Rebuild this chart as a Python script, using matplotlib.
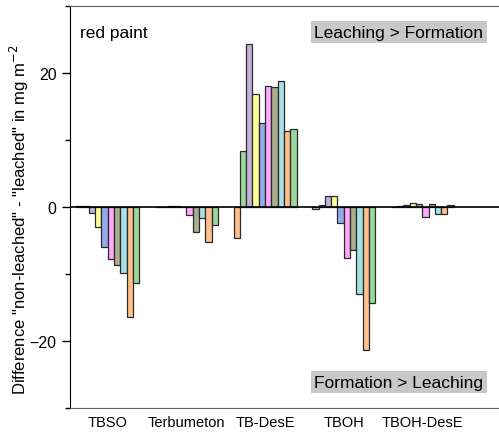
import numpy as np
import matplotlib.pyplot as plt
from matplotlib.ticker import MultipleLocator

plt.rcParams['font.family'] = ['Liberation Sans', 'DejaVu Sans']

# compounds on the x axis
compounds = ['TBSO', 'Terbumeton', 'TB-DesE', 'TBOH', 'TBOH-DesE']

# ten series per compound, in drawing order (left to right inside a group)
s_orange1 = [0.1, 0.0, -4.6, -0.3, 0.0]
s_green1 = [0.1, 0.0, 8.4, 0.3, 0.1]
s_purple = [-0.9, 0.2, 24.4, 1.6, 0.35]
s_yellow = [-3.0, 0.1, 16.9, 1.6, 0.55]
s_blue = [-5.9, 0.0, 12.5, -2.4, 0.5]
s_pink = [-7.7, -1.25, 18.0, -7.6, -1.5]
s_olive = [-8.6, -3.8, 17.9, -6.4, 0.4]
s_cyan = [-9.8, -1.6, 18.8, -13.0, -1.05]
s_orange2 = [-16.4, -5.2, 11.4, -21.3, -1.05]
s_green2 = [-11.3, -2.7, 11.7, -14.4, 0.3]

series = [s_orange1, s_green1, s_purple, s_yellow, s_blue,
          s_pink, s_olive, s_cyan, s_orange2, s_green2]
colors = ['#FFC08C', '#9DD69A', '#C2B3DB', '#FFFF99', '#94AAEE',
          '#FFA8FF', '#AAAE8C', '#A8E2E8', '#FFC08C', '#9DD69A']

fig = plt.figure(figsize=(4.99, 4.35), dpi=100)
ax = fig.add_axes([0.140, 0.0598, 0.860, 0.924])

x = np.arange(len(compounds))
w = 0.08
n = len(series)
for j, (vals, c) in enumerate(zip(series, colors)):
    ax.bar(x + (j - (n - 1) / 2) * w, vals, width=w, color=c,
           edgecolor='#2a2a2a', linewidth=0.9, zorder=2)

ax.axhline(0, color='black', linewidth=1.2, zorder=3)

ax.set_xlim(-0.482, 4.975)
ax.set_ylim(-30, 30)
ax.set_xticks(x)
ax.set_xticklabels(compounds, fontsize=10.5)
ax.tick_params(axis='x', length=0, pad=5)
ax.yaxis.set_major_locator(MultipleLocator(20))
ax.yaxis.set_minor_locator(MultipleLocator(10))
ax.tick_params(axis='y', which='major', length=6, width=1, labelsize=11.5, direction='out')
ax.tick_params(axis='y', which='minor', length=3.5, width=1, direction='out')

ax.spines['right'].set_visible(False)
ax.spines['left'].set_color('black')
ax.spines['top'].set_color('#606060')
ax.spines['bottom'].set_color('#606060')

ax.set_ylabel('Difference "non-leached" - "leached" in mg m$^{-2}$', fontsize=12)
ax.yaxis.set_label_coords(-0.09, 0.47)

ax.text(0.023, 0.935, 'red paint', transform=ax.transAxes, fontsize=12.5,
        ha='left', va='center')
ax.text(0.963, 0.935, 'Leaching > Formation', transform=ax.transAxes, fontsize=12.5,
        ha='right', va='center',
        bbox=dict(facecolor='#C8C8C8', edgecolor='none', pad=2.5))
ax.text(0.963, 0.064, 'Formation > Leaching', transform=ax.transAxes, fontsize=12.5,
        ha='right', va='center',
        bbox=dict(facecolor='#C8C8C8', edgecolor='none', pad=2.5))

fig.savefig('out.png', dpi=100)
